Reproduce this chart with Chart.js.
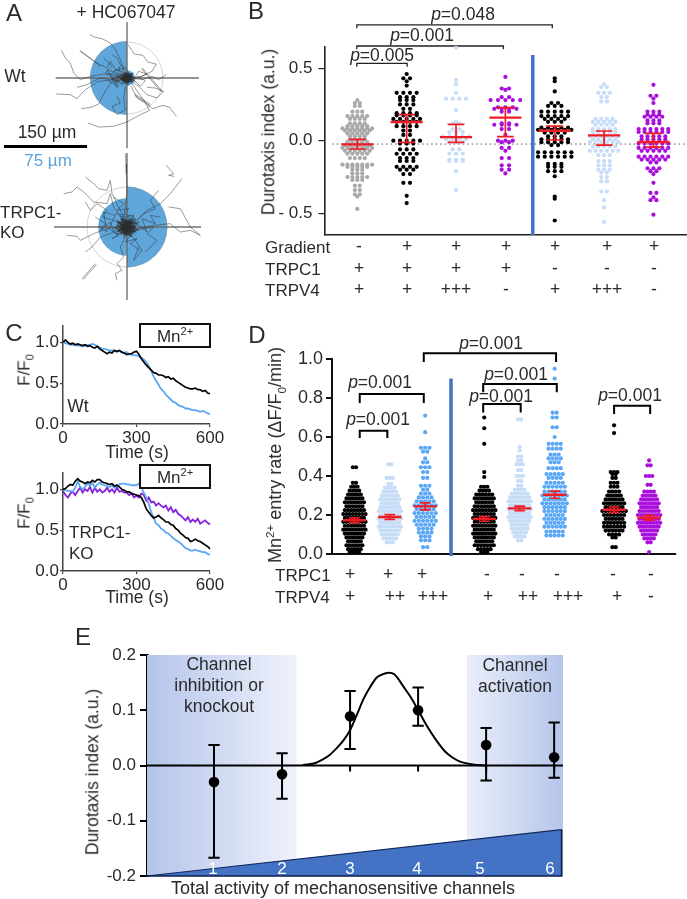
<!DOCTYPE html>
<html>
<head>
<meta charset="utf-8">
<style>
  html, body { margin: 0; padding: 0; background: #fff; }
  body { position: relative; width: 687px; height: 899px; overflow: hidden; font-family: "Liberation Sans", Arial, sans-serif; }
  canvas { position: absolute; }
  .t { position: absolute; white-space: nowrap; color: #2a2a2a; line-height: 1; transform: translate(-50%, -50%); will-change: transform; }
  .t.left { transform: translate(0, -50%); }
  .t.up { transform: translate(-50%, -50%) rotate(-90deg); }
  .t sup { font-size: .65em; line-height: 0; }
  .t sub { font-size: .65em; line-height: 0; }
  .box { position: absolute; box-sizing: border-box; border: 2px solid #111; background: #fff; }
</style>
<script src="https://cdn.jsdelivr.net/npm/chart.js@4"></script>
</head>
<body>
<script>
// Panel A: rose radii in um (right half, left half), track points (1 unit = 0.6 um)
const wtRose = [14, 67];
const koRose = [73, 52];
const wtTracks = [
  [-112,-130,-95,-122,-75,-118,-50,-105,-35,-85,-20,-55,-10,-25,0,0],
  [-197,-83,-185,-60,-170,-45,-160,-15,-140,5,-110,-5,-70,-12,-30,-5,0,0],
  [-142,-83,-80,-38], [-140,-80,-78,-35],
  [-212,48,-170,50,-150,62,-125,35,-85,10,-40,5,0,0],
  [-137,92,-108,88,-85,78,-65,40,-45,10,-10,5],
  [-117,135,-85,147,-40,145,0,132,40,110,68,97,55,75,30,60,12,25],
  [148,115,128,88,108,82,78,92,58,78,35,45,10,10],
  [23,52,68,82], [25,49,70,79],
  [43,-28,103,42], [46,-30,106,40],
  [3,-100,22,-72,48,-68,62,-48,88,-42,75,-20,45,-5,10,0],
  [-45,-70,-30,-60,-20,-40,-5,-30,5,-10,0,0],
  [-150,28,-120,20,-80,0,-50,6,-20,-4,0,2],
  [-78,-40,-60,-30,-50,-50,-35,-25,-15,-18,-5,-2],
  [60,28,85,30,110,40,90,60,60,50,35,25,10,8],
  [118,-10,95,5,75,-5,45,5,15,0],
  [-30,55,-20,75,-45,85,-30,110,-5,95,-10,60,-5,25],
  [-70,-60,-45,-35,-65,-15,-30,-10,-15,5],
  [-40,-20,-10,-30,-30,10,5,20,-25,-5,20,-15,-15,20,-45,0,-5,-15,25,12],
  [-55,10,-25,25,-50,-10,-20,-35,-35,15,-5,-5,-60,-25,-30,30],
  [30,-5,55,8,40,25,20,5,60,-12,35,-20,15,12],
  [-18,-5,12,8,-15,10,14,-10,-8,-14,16,2,-12,12,8,-12,-16,0,18,6],
  [-22,6,5,-16,20,10,-10,-8,6,15,-20,-6,15,-4,-6,12,10,6,-14,-12],
  [-10,14,15,-12,-18,4,10,10,-6,-18,22,-2,-14,-6,4,16,-8,-10,12,0],
  [-14,-10,14,12,-20,2,8,-14,-4,16,18,-6,-16,8,6,6,-8,-16,16,10],
  [-8,8,10,-6,-12,-4,6,12,-14,4,12,4,-6,-10,4,-4,-10,6,8,8],
  [-16,4,10,-10,-6,14,16,-4,-14,-10,6,10,-18,-2,12,6,-4,-14,8,14],
  [-12,-12,18,2,-8,12,14,10,-18,6,4,-16,-10,0,16,-10,-4,8,10,-2]
];
const koTracks = [
  [-190,-100,-165,-105,-150,-120,-130,-105,-100,-75,-60,-70,-50,-100,-40,-60,-20,-30,0,0],
  [-125,-150,-100,-130,-85,-115,-60,-110,-50,-140,-45,-100,-30,-70,-10,-30],
  [-125,-75,-110,-50,-90,-70,-60,-50,-75,-30,-40,-20,-10,-5],
  [118,-185,140,-160,125,-155,142,-152],
  [165,-145,130,-100,100,-70,60,-50,20,-10],
  [125,-60,160,-55,190,0,220,25,190,10,160,15,130,-10,80,-5,30,5],
  [95,-110,70,-80,85,-55,50,-40,30,-20],
  [-135,155,-95,110], [-132,158,-92,113],
  [-180,25,-150,28,-140,40,-120,30,-100,20,-60,5,-20,0],
  [-30,160,-35,140,-15,130,-30,110,-10,90,-20,60,-5,30],
  [-125,75,-105,60,-80,30,-50,20,-20,10],
  [55,75,90,40,60,20,80,0,50,5,20,10],
  [-5,-220,-3,-190,-2,-160,0,-120,-3,-80,-8,-40],
  [35,60,20,100,45,70,25,40,5,15],
  [-85,-5,-60,15,-70,-45,-35,-35,-55,5,-25,25,-45,35,-15,15],
  [100,-30,70,-35,85,-10,45,-25,60,15,30,-10,15,5],
  [-40,-90,-10,-70,-30,-50,5,-55,-15,-30,20,-35,0,-15],
  [-95,-30,-65,-10,-80,10,-50,-15,-40,15,-25,-15,-10,10],
  [40,70,10,50,30,35,-5,45,15,20,-10,25,5,5],
  [-35,-40,10,-35,-25,-10,25,-25,-20,20,35,10,-35,5,15,30,-15,-25,30,-10],
  [-28,-20,28,15,-35,20,20,-32,-10,32,38,-15,-30,-5,8,25,-20,-35,25,25],
  [-18,-5,12,8,-15,10,14,-10,-8,-14,16,2,-12,12,8,-12,-16,0,18,6],
  [-22,6,5,-16,20,10,-10,-8,6,15,-20,-6,15,-4,-6,12,10,6,-14,-12],
  [-10,14,15,-12,-18,4,10,10,-6,-18,22,-2,-14,-6,4,16,-8,-10,12,0],
  [-14,-10,14,12,-20,2,8,-14,-4,16,18,-6,-16,8,6,6,-8,-16,16,10],
  [-26,12,18,-20,-12,22,24,4,-24,-14,10,18,-6,-22,20,-8,-18,16,12,-4],
  [-32,2,6,24,22,-14,-20,-22,26,14,-8,10,-28,10,14,-16,-2,28,-16,-8],
  [-8,8,10,-6,-12,-4,6,12,-14,4,12,4,-6,-10,4,-4,-10,6,8,8],
  [-30,-14,12,26,26,-22,-24,14,6,-28,30,8,-20,-6,-2,18,16,-12,-28,22],
  [22,18,-18,-24,28,2,-30,-4,14,22,-10,-30,20,12,-24,8,8,-20,-12,26],
  [-20,24,30,-10,-16,-16,10,28,-26,-2,24,-24,-6,6,18,20,-32,-18,2,-10],
  [-12,-26,26,14,-28,12,18,-6,-6,22,12,-18,-22,-10,28,4,-14,18,6,-24]
];

// Panel B: rows of the swarm as [value, dots in the row]
const b1Rows = [[.28,1],[.26,2],[.24,2],[.2,3],[.17,5],[.15,4],[.12,4],[.1,5],[.085,7],[.07,6],[.05,5],[.03,4],[.01,4],[-.01,5],[-.03,6],[-.05,7],[-.07,6],[-.09,5],[-.12,4],[-.165,7],[-.18,5],[-.2,3],[-.225,3],[-.25,5],[-.27,3],[-.31,2],[-.34,2],[-.37,2],[-.385,1],[-.47,1]];
const b2Rows = [[.46,1],[.43,2],[.41,1],[.38,1],[.33,4],[.3,3],[.28,3],[.25,3],[.22,2],[.19,4],[.175,4],[.15,5],[.13,4],[.1,4],[.07,2],[.04,2],[0,5],[-.02,3],[-.06,3],[-.09,4],[-.12,3],[-.14,3],[-.18,4],[-.2,3],[-.23,2],[-.29,2],[-.38,1],[-.43,1]];
const b3Rows = [[.64,1],[.42,1],[.39,1],[.33,1],[.29,4],[.21,1],[.13,1],[.12,2],[.08,2],[.06,3],[.03,5],[.01,4],[-.01,3],[-.06,2],[-.09,3],[-.13,3],[-.14,3],[-.21,1],[-.34,1]];
const b4Rows = [[.44,1],[.36,2],[.35,1],[.3,2],[.28,5],[.23,3],[.22,4],[.2,2],[.12,2],[.11,4],[.08,2],[.04,1],[0,3],[-.01,2],[-.05,2],[-.07,1],[-.12,2],[-.17,2],[-.2,2],[-.225,1]];
const b5Rows = [[.43,1],[.41,1],[.34,1],[.26,2],[.24,3],[.2,5],[.17,5],[.15,4],[.13,3],[.09,5],[.075,6],[.055,4],[.03,3],[.01,5],[-.01,5],[-.03,2],[-.08,6],[-.11,6],[-.16,3],[-.18,3],[-.21,3],[-.245,1],[-.385,1],[-.4,1],[-.55,1]];
const b6Rows = [[.39,1],[.37,2],[.33,3],[.3,2],[.27,2],[.15,4],[.13,5],[.11,4],[.08,5],[.06,5],[.03,6],[.01,5],[-.01,6],[-.04,5],[-.07,6],[-.1,3],[-.14,3],[-.17,3],[-.2,3],[-.22,2],[-.25,2],[-.28,2],[-.35,2],[-.41,1],[-.46,1],[-.56,1]];
const b7Rows = [[.385,1],[.31,2],[.29,1],[.26,1],[.2,3],[.18,3],[.165,4],[.14,3],[.12,3],[.08,6],[.06,6],[.03,5],[.01,5],[-.02,6],[-.05,6],[-.07,5],[-.11,6],[-.13,5],[-.15,2],[-.19,3],[-.21,2],[-.23,1],[-.29,1],[-.36,2],[-.39,1],[-.41,2],[-.51,1]];
const bMeans = [-.025, .129, .025, .159, .069, .037, -.009];
const bErrTop = [.009, .18, .113, .228, .1, .067, .05];
const bErrBottom = [-.057, -.011, -.011, .028, .005, -.03, -.044];
const bBracketLeft = [.99, .99, .99];
const bBracketRight = [2.01, 3.96, 4.95];
const bBracketTop = [.533, .653, .798];
const bBracketFoot = [.51, .63, .775];
const bYTicks = [-.5, 0, .5];
const bYLabels = ['- 0.5', '0.0', '0.5'];
const gradientSigns = ['-', '+', '+', '+', '+', '+', '+'];
const bTrpc1Signs = ['+', '+', '+', '+', '-', '-', '-'];
const bTrpv4Signs = ['+', '+', '+++', '-', '+', '+++', '-'];

// Panel C: normalised fluorescence, one reading every 10 s
const cTimes = [0,10,20,30,40,50,60,70,80,90,100,110,120,130,140,150,160,170,180,190,200,210,220,230,240,250,260,270,280,290,300,310,320,330,340,350,360,370,380,390,400,410,420,430,440,450,460,470,480,490,500,510,520,530,540,550,560,570,580,590,600];
const wtBlack = [1,1.03,1,.98,.99,.97,.98,.97,.96,.97,.95,.96,.94,.93,.95,.92,.9,.88,.86,.88,.87,.9,.89,.9,.88,.87,.85,.86,.86,.88,.89,.85,.8,.76,.72,.69,.66,.63,.62,.6,.6,.59,.57,.58,.55,.56,.53,.51,.49,.47,.45,.44,.43,.43,.44,.42,.42,.4,.41,.38,.37];
const wtBlue = [1,.99,.98,.97,.97,.97,.96,.96,.95,.96,.97,.97,.98,.97,.95,.94,.92,.92,.91,.9,.9,.9,.88,.9,.88,.87,.88,.85,.85,.84,.84,.83,.81,.79,.76,.71,.65,.58,.53,.48,.43,.4,.36,.33,.3,.27,.26,.23,.22,.21,.19,.19,.18,.17,.17,.16,.15,.16,.15,.13,.12];
const koBlack = [1,1.01,1.04,1.06,1.05,1.1,1.13,1.1,1.09,1.07,1.09,1.08,1.11,1.09,1.12,1.12,1.09,1.08,1.07,1.06,1.07,1.04,1.05,1.03,1,.99,.97,.97,.95,.94,.93,.92,.9,.84,.76,.72,.68,.65,.66,.68,.65,.63,.6,.6,.57,.56,.52,.5,.46,.44,.41,.4,.36,.37,.39,.37,.36,.34,.32,.3,.27];
const koBlue = [1,.99,.98,.98,.97,1.02,1.1,1.03,1,1.03,1.07,1.05,1.08,1.02,1.06,1.08,1.06,1.05,1.04,1.03,1.05,1.02,1.05,1.06,1.07,1.07,1.06,1.06,1.05,1.05,1.05,1.07,1.02,.96,.9,.82,.72,.65,.58,.56,.52,.5,.47,.46,.43,.4,.38,.36,.34,.31,.28,.27,.25,.25,.26,.25,.24,.23,.23,.21,.2];
const koPurple = [.98,.93,.9,.95,.97,.93,.98,1.02,.96,1,.98,1.03,.96,1.02,.97,1,.96,.98,1.02,.97,1,.96,1.02,.97,.98,.96,.96,.93,.95,.9,.92,.9,.95,.93,.86,.9,.84,.85,.8,.83,.8,.78,.8,.74,.78,.72,.75,.7,.68,.65,.62,.66,.6,.63,.6,.64,.58,.6,.62,.59,.57];
const cYTicks = [0, .5, 1];
const cXTicks = [0, 300, 600];

// Panel D: rows of the swarm as [value, dots in the row]
const d1Rows = [[.445,2],[.365,2],[.345,3],[.325,4],[.305,5],[.285,6],[.265,7],[.245,6],[.225,7],[.205,8],[.185,7],[.165,8],[.145,7],[.125,8],[.105,7],[.085,6],[.065,5],[.045,6],[.025,5],[.01,4]];
const d2Rows = [[.46,2],[.39,3],[.36,2],[.34,4],[.32,5],[.3,6],[.28,7],[.26,6],[.24,7],[.22,8],[.2,7],[.18,8],[.16,7],[.14,8],[.12,7],[.1,6],[.08,5],[.06,3]];
const d3Rows = [[.71,1],[.625,1],[.545,3],[.525,2],[.49,1],[.47,2],[.445,3],[.42,2],[.39,2],[.35,3],[.33,2],[.31,3],[.29,4],[.27,5],[.25,6],[.23,5],[.21,6],[.19,5],[.17,6],[.15,5],[.13,4],[.11,4],[.09,3],[.07,3],[.035,2]];
const d4Rows = [[.7,1],[.645,1],[.565,1],[.42,1],[.395,1],[.345,3],[.325,4],[.305,6],[.285,7],[.265,6],[.245,7],[.225,8],[.205,7],[.185,8],[.165,7],[.145,8],[.125,7],[.105,8],[.085,7],[.065,6],[.045,7],[.025,5],[.01,3]];
const d5Rows = [[.69,2],[.55,1],[.53,1],[.5,2],[.48,2],[.46,3],[.43,2],[.4,3],[.375,2],[.35,2],[.33,4],[.31,6],[.29,7],[.27,8],[.25,7],[.23,8],[.21,7],[.19,8],[.17,7],[.15,6],[.13,6],[.11,5],[.09,4],[.07,2]];
const d6Rows = [[.95,1],[.9,1],[.725,2],[.7,2],[.65,2],[.6,1],[.565,4],[.54,4],[.51,3],[.49,4],[.47,3],[.44,4],[.41,5],[.39,4],[.365,5],[.345,6],[.32,6],[.3,7],[.28,6],[.26,7],[.24,6],[.22,6],[.2,5],[.18,6],[.16,5],[.14,6],[.115,5],[.095,5]];
const d7Rows = [[.66,1],[.62,1],[.42,3],[.41,2],[.39,2],[.365,3],[.345,3],[.32,4],[.3,5],[.28,6],[.26,7],[.24,6],[.22,8],[.2,7],[.18,6],[.16,7],[.14,7],[.12,6],[.1,4],[.085,2],[.035,2]];
const d8Rows = [[.48,1],[.455,2],[.4,3],[.355,2],[.32,4],[.3,5],[.28,6],[.26,7],[.24,6],[.22,7],[.2,8],[.18,7],[.16,8],[.14,7],[.12,6],[.1,5],[.08,4],[.06,2],[.01,1]];
const dGroupX = [1, 2, 3, 4.67, 5.67, 6.66, 8.34, 9.33];
const dMeans = [.173, .19, .244, .18, .234, .304, .227, .186];
const dErr = [.012, .012, .018, .012, .012, .018, .014, .012];
const dBracketLeft = [1.15, 1.15, 2.96, 4.64, 4.64, 8.34];
const dBracketRight = [1.93, 2.96, 6.7, 6.72, 5.7, 9.36];
const dBracketTop = [.632, .82, 1.03, .872, .769, .76];
const dBracketFoot = [.595, .775, .985, .829, .726, .718];
const dYTicks = [0, .2, .4, .6, .8, 1];
const dTrpc1Signs = ['+', '+', '+', '-', '-', '-', '-', '-'];
const dTrpv4Signs = ['+', '++', '+++', '+', '++', '+++', '+', '-'];

// Panel E
const eActivity = [1, 2, 3, 4, 5, 6];
const eMeans = [-.03, -.016, .089, .1, .037, .015];
const eErrTop = [.037, .022, .135, .141, .068, .078];
const eErrBottom = [-.167, -.06, .03, .072, -.027, -.022];
const curveX = [2.3, 2.4, 2.5, 2.6, 2.7, 2.8, 2.9, 3, 3.1, 3.2, 3.3, 3.4, 3.5, 3.57, 3.65, 3.8, 3.9, 4, 4.1, 4.2, 4.3, 4.4, 4.5, 4.6, 4.8, 5];
const curveY = [.001, .0024, .005, .011, .019, .031, .045, .064, .092, .121, .143, .16, .166, .168, .165, .14, .122, .1, .078, .058, .04, .025, .015, .008, .002, 0];
const activityX = [.015, 6.11];
const activityY = [-.2, -.116];
const eYTicks = [-.2, -.1, 0, .1, .2];
const eYLabels = ['-0.2', '-0.1', '0.0', '0.1', '0.2'];

const GRAY = '#a9a9a9', BLACK = '#000', PALE = '#c6dcf7', BLUE = '#5aa7f5', PURPLE = '#a90fdc', RED = '#ee1c25', BAR = '#4472c4';

Chart.defaults.font.family = '"Liberation Sans", Arial, sans-serif';
Chart.defaults.color = '#2a2a2a';
Chart.defaults.animation = false;
Chart.defaults.responsive = false;
Chart.defaults.layout.autoPadding = false;
Chart.defaults.plugins.legend.display = false;
Chart.defaults.plugins.tooltip.enabled = false;

function addCanvas(left, top, width, height) {
  const c = document.createElement('canvas');
  c.width = width; c.height = height;
  c.style.left = left + 'px'; c.style.top = top + 'px';
  c.style.width = width + 'px'; c.style.height = height + 'px';
  document.body.appendChild(c);
  return c.getContext('2d');
}

function text(html, x, y, size, cls, color) {
  const d = document.createElement('div');
  d.className = 't ' + (cls || '');
  d.innerHTML = html;
  d.style.left = x + 'px'; d.style.top = y + 'px'; d.style.fontSize = (size || 17.5) + 'px';
  if (color) d.style.color = color;
  document.body.appendChild(d);
}

function box(left, top, width, height, html) {
  const d = document.createElement('div');
  d.className = 'box';
  d.style.cssText = `left:${left}px;top:${top}px;width:${width}px;height:${height}px`;
  document.body.appendChild(d);
  text(html, left + width / 2, top + height / 2, 17);
}

function line(data, color, width, extra) {
  return Object.assign({ data, borderColor: color, borderWidth: width, showLine: true, pointRadius: 0, clip: false, tension: 0 }, extra);
}

function dots(data, color, radius) {
  return { data, backgroundColor: color, borderWidth: 0, pointRadius: radius, showLine: false, clip: false };
}

function swarm(x, rows, gap) {
  const pts = [];
  rows.forEach(([y, n]) => {
    for (let k = 0; k < n; k++) pts.push({ x: x + (k - (n - 1) / 2) * gap, y });
  });
  return pts;
}

function pairs(flat) {
  const pts = [];
  for (let i = 0; i < flat.length; i += 2) pts.push({ x: flat[i], y: flat[i + 1] });
  return pts;
}

const GAP = { x: NaN, y: NaN };

function segments(list) {
  const pts = [];
  list.forEach(seg => { pts.push(...seg, GAP); });
  return pts;
}

function meanBars(xs, ys, half) {
  return segments(xs.map((x, i) => [{ x: x - half, y: ys[i] }, { x: x + half, y: ys[i] }]));
}

function errorBars(xs, tops, bottoms, half) {
  return segments(xs.map((x, i) => [
    { x: x - half, y: tops[i] }, { x: x + half, y: tops[i] }, GAP,
    { x, y: tops[i] }, { x, y: bottoms[i] }, GAP,
    { x: x - half, y: bottoms[i] }, { x: x + half, y: bottoms[i] }
  ]));
}

function brackets(lefts, rights, tops, feet) {
  return segments(lefts.map((l, i) => [
    { x: l, y: feet[i] }, { x: l, y: tops[i] }, { x: rights[i], y: tops[i] }, { x: rights[i], y: feet[i] }
  ]));
}

function tickList(values) {
  return scale => { scale.ticks = values.map(value => ({ value })); };
}

// plot is the wanted plot area in page pixels, m the room kept around it on the canvas
// (t and b must stay above about 16, or the y tick labels push the plot area in).
// Datasets are listed top layer first, which is how Chart.js stacks them.
function plotChart(plot, m, datasets, xScale, yScale) {
  const ctx = addCanvas(plot.left - m.l, plot.top - m.t, plot.right - plot.left + m.l + m.r, plot.bottom - plot.top + m.t + m.b);
  return new Chart(ctx, {
    type: 'scatter',
    data: { datasets },
    options: {
      layout: { padding: { top: m.t, right: m.r, left: 0, bottom: 0 } },
      scales: {
        x: Object.assign({ type: 'linear', afterFit: s => { s.height = m.b; } }, xScale),
        y: Object.assign({ type: 'linear', afterFit: s => { s.width = m.l; } }, yScale)
      }
    }
  });
}

function axis(min, max, ticks, labels, o) {
  return {
    min, max,
    z: o.z || 0,
    border: { display: true, color: o.color || '#222', width: o.width || 1.5 },
    grid: { drawOnChartArea: false, drawTicks: !!o.tick, tickLength: o.tick || 0, color: o.color || '#222', lineWidth: o.tickWidth || 1.2 },
    afterBuildTicks: tickList(ticks),
    ticks: {
      display: !!labels,
      autoSkip: false, maxRotation: 0,
      padding: o.pad === undefined ? 3 : o.pad,
      font: { size: o.size || 17 }, color: '#2a2a2a',
      callback: (v, i) => (labels ? labels[i] : '')
    }
  };
}

// ---- Panel A ----
function rosePanel(cx, cy, rose, circle, tracks, halfH, cross) {
  const polar = addCanvas(cx - 72, cy - 72, 144, 144);
  new Chart(polar, {
    type: 'polarArea',
    data: { labels: ['stiff', 'soft'], datasets: [{ data: rose, backgroundColor: '#5fa6da', borderWidth: 0 }] },
    options: { scales: { r: { display: false, min: 0, max: 130 } } }
  });
  const ds = tracks.map(t => line(pairs(t), 'rgba(45,45,45,.68)', .7));
  const ctx = addCanvas(cx - 120, cy - halfH / 3, 240, Math.round(halfH * 2 / 3));
  ds.push(line([{ x: 0, y: cross[0] }, { x: 0, y: cross[1] }], 'rgba(105,105,105,.95)', 1.4));
  ds.push(line([{ x: cross[2], y: 0 }, { x: cross[3], y: 0 }], 'rgba(105,105,105,.95)', 1.4));
  ds.push({ data: [{ x: 0, y: 0 }], pointRadius: circle, backgroundColor: 'transparent', borderColor: 'rgba(150,150,150,.4)', borderWidth: 1, clip: false });
  new Chart(ctx, {
    type: 'scatter',
    data: { datasets: ds },
    options: {
      scales: {
        x: { type: 'linear', display: false, min: -360, max: 360 },
        y: { type: 'linear', display: false, min: -halfH, max: halfH, reverse: true }
      }
    }
  });
}
rosePanel(127, 78, wtRose, 36, wtTracks, 216, [-168, 211, -214, 216]);
rosePanel(127, 227, koRose, 40, koTracks, 225, [-222, 219, -219, 222]);

// ---- Panel B ----
const bX = [1, 2, 3, 4, 5, 6, 7];
const bSwarmGap = [.1, .135, .135, .15, .135, .115, .12];
const bColors = [GRAY, BLACK, PALE, PURPLE, BLACK, PALE, PURPLE];
const bGroups = [b1Rows, b2Rows, b3Rows, b4Rows, b5Rows, b6Rows, b7Rows];
plotChart({ left: 325, right: 687, top: 47, bottom: 235 }, { l: 60, r: 0, t: 30, b: 20 }, [
  line(meanBars(bX, bMeans, .325), RED, 2.4),
  line(errorBars(bX, bErrTop, bErrBottom, .17), RED, 1.7),
  ...bGroups.map((rows, i) => dots(swarm(bX[i], rows, bSwarmGap[i]), bColors[i], 2.1)),
  line([{ x: 4.555, y: .59 }, { x: 4.555, y: -.65 }], BAR, 3.5),
  line(brackets(bBracketLeft, bBracketRight, bBracketTop, bBracketFoot), '#222', 1.3),
  line([{ x: .49, y: -.023 }, { x: 7.68, y: -.023 }], '#555', 1, { borderDash: [1.5, 3] })
], axis(.345, 7.68, [], null, { width: 1.6 }), axis(-.65, .646, bYTicks, bYLabels, { tick: 6.5, pad: 6, width: 1.6 }));

// ---- Panel C ----
const series = ys => ys.map((y, i) => ({ x: cTimes[i], y }));
const cLabels = ['0.0', '0.5', '1.0'];
const cXLabels = ['0', '300', '600'];
plotChart({ left: 63, right: 210, top: 326, bottom: 424 }, { l: 50, r: 25, t: 20, b: 24 }, [
  line(series(wtBlack), BLACK, 1.7),
  line(series(wtBlue), BLUE, 1.8)
], axis(0, 600, cXTicks, cXLabels, { tick: 3, pad: 1, color: '#444', width: 1.5 }), axis(0, 1.2, cYTicks, cLabels, { tick: 3, pad: 1, color: '#444', width: 1.5 }));
plotChart({ left: 63, right: 210, top: 473, bottom: 571 }, { l: 50, r: 25, t: 20, b: 24 }, [
  line(series(koBlack), BLACK, 1.7),
  line(series(koBlue), BLUE, 1.8),
  line(series(koPurple), '#8422dc', 1.8)
], axis(0, 600, cXTicks, cXLabels, { tick: 3, pad: 1, color: '#444', width: 1.5 }), axis(0, 1.2, cYTicks, cLabels, { tick: 3, pad: 1, color: '#444', width: 1.5 }));

// ---- Panel D ----
const dSwarmGap = [.09, .09, .12, .09, .09, .115, .095, .09];
const dColors = [BLACK, PALE, BLUE, BLACK, PALE, BLUE, BLACK, PURPLE];
const dGroups = [d1Rows, d2Rows, d3Rows, d4Rows, d5Rows, d6Rows, d7Rows, d8Rows];
plotChart({ left: 332, right: 676, top: 359, bottom: 554 }, { l: 45, r: 6, t: 26, b: 20 }, [
  line(meanBars(dGroupX, dMeans, .33), RED, 2.4),
  line(errorBars(dGroupX, dMeans.map((m, i) => m + dErr[i]), dMeans.map((m, i) => m - dErr[i]), .15), RED, 1.7),
  ...dGroups.map((rows, i) => dots(swarm(dGroupX[i], rows, dSwarmGap[i]), dColors[i], 2.1)),
  line([{ x: 3.73, y: .9 }, { x: 3.73, y: -.01 }], BAR, 3.5),
  line(brackets(dBracketLeft, dBracketRight, dBracketTop, dBracketFoot), BLACK, 2)
], axis(.366, 10.09, [], null, { width: 2, color: '#111' }), axis(0, 1, dYTicks, ['0.0', '0.2', '0.4', '0.6', '0.8', '1.0'], { tick: 6, tickWidth: 2, pad: 3, size: 18, width: 2, color: '#111' }));

// ---- Panel E ----
function shade(from, to, c0, c1) {
  return line([{ x: from, y: .2 }, { x: to, y: .2 }], 'transparent', 0, {
    fill: { value: -.2 },
    backgroundColor: ctx => {
      const s = ctx.chart.scales.x;
      const a = s && s.getPixelForValue(from), b = s && s.getPixelForValue(to);
      if (!Number.isFinite(a) || !Number.isFinite(b)) return c0;
      const g = ctx.chart.ctx.createLinearGradient(a, 0, b, 0);
      g.addColorStop(0, c0); g.addColorStop(1, c1);
      return g;
    }
  });
}
const eCurve = curveX.map((x, i) => ({ x, y: curveY[i] }));
plotChart({ left: 147, right: 563, top: 655, bottom: 876 }, { l: 45, r: 4, t: 20, b: 20 }, [
  dots(eActivity.map((x, i) => ({ x, y: eMeans[i] })), BLACK, 5.3),
  line(errorBars(eActivity, eErrTop, eErrBottom, .083), BLACK, 2),
  line(eCurve, BLACK, 2, { cubicInterpolationMode: 'monotone' }),
  line(segments(eActivity.map(x => [{ x, y: 0 }, { x, y: -.011 }])), BLACK, 2),
  line([{ x: .015, y: 0 }, { x: 6.13, y: 0 }], BLACK, 1.8),
  line([{ x: .015, y: -.2 }, { x: 6.11, y: -.2 }, { x: 6.11, y: activityY[1] }], '#0c1f4a', 1.6),
  line(activityX.map((x, i) => ({ x, y: activityY[i] })), '#12295c', 1.2, { fill: { value: -.2 }, backgroundColor: BAR }),
  shade(.015, 2.216, '#b4c4ea', '#eff2fb'),
  shade(4.716, 6.13, '#eaeefa', '#b5c5ea')
], Object.assign(axis(.015, 6.13, [], null, {}), { border: { display: false } }),
   axis(-.2, .2, eYTicks, eYLabels, { tick: 7, tickWidth: 2, pad: 4, width: 2.6, color: '#000', z: 1 }));

// ---- Text ----
text('A', 14, 13, 24); text('B', 256, 11, 24); text('C', 14, 333, 24); text('D', 257, 335, 24); text('E', 83, 637, 24);

text('+ HC067047', 126, 13);
text('Wt', 15, 77);
text('150 µm', 47, 133);
const bar = document.createElement('div');
bar.style.cssText = 'position:absolute;left:4px;top:145px;width:83px;height:3px;background:#000';
document.body.appendChild(bar);
text('75 µm', 48, 160, 17, '', '#5ba3dc');
text('TRPC1-', 0, 212, 17, 'left'); text('KO', 0, 232, 17, 'left');

text('Durotaxis index (a.u.)', 269, 132, 17.5, 'up');
text('<i>p</i>=0.005', 382, 56);
text('<i>p</i>=0.001', 422, 36);
text('<i>p</i>=0.048', 463, 15);
text('Gradient', 265, 247, 17, 'left');
text('TRPC1', 265, 269, 17, 'left');
text('TRPV4', 265, 290, 17, 'left');
const bSignX = [359, 407, 456, 506, 555, 607, 654];
gradientSigns.forEach((s, i) => text(s, bSignX[i], 247));
bTrpc1Signs.forEach((s, i) => text(s, bSignX[i], 269));
bTrpv4Signs.forEach((s, i) => text(s, bSignX[i], 290));

box(139, 323, 72, 25, 'Mn<sup>2+</sup>');
box(139, 464, 72, 25, 'Mn<sup>2+</sup>');
text('F/F<sub>0</sub>', 24, 370, 17, 'up');
text('F/F<sub>0</sub>', 24, 513, 17, 'up');
text('Time (s)', 137, 453);
text('Time (s)', 137, 598);
text('Wt', 78, 407);
text('TRPC1-', 69, 532, 17, 'left'); text('KO', 69, 553, 17, 'left');

text('Mn<sup>2+</sup> entry rate (ΔF/F<sub>0</sub>/min)', 275, 455, 18, 'up');
text('<i>p</i>=0.001', 378, 420);
text('<i>p</i>=0.001', 380, 383);
text('<i>p</i>=0.001', 491, 344);
text('<i>p</i>=0.001', 516, 375);
text('<i>p</i>=0.001', 501, 397);
text('<i>p</i>=0.001', 630, 396);
text('TRPC1', 275, 575, 17, 'left');
text('TRPV4', 275, 597, 17, 'left');
const dTrpc1X = [350, 388, 422, 487, 522, 557, 613, 651];
const dTrpv4X = [350, 395, 433, 488, 528, 568, 617, 651];
dTrpc1Signs.forEach((s, i) => text(s, dTrpc1X[i], 575));
dTrpv4Signs.forEach((s, i) => text(s, dTrpv4X[i], 597));

text('Durotaxis index (a.u.)', 93, 772, 17.5, 'up');
text('Total activity of mechanosensitive channels', 343, 888, 18);
text('Channel', 219, 665); text('inhibition or', 219, 686); text('knockout', 219, 707);
text('Channel', 515, 666); text('activation', 515, 687);
const eDigitX = [213, 282, 350, 417, 480, 550];
eActivity.forEach((v, i) => text(String(v), eDigitX[i], 868, 17, '', '#fff'));
</script>
</body>
</html>
